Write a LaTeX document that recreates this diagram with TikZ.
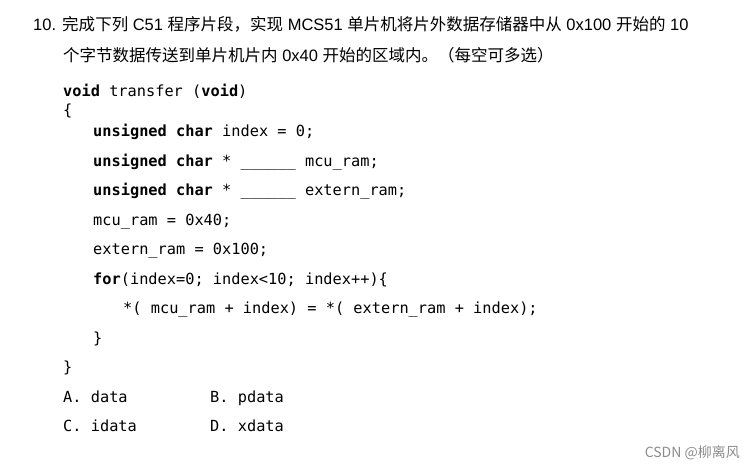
\documentclass[tikz,border=0pt]{standalone}
\usepackage{fontspec}
\setmainfont{Liberation Sans}
\setmonofont{DejaVu Sans Mono}
\newfontfamily\cjk{Noto Sans CJK SC}
\usetikzlibrary{positioning}
\tikzset{every node/.style={inner sep=0pt, anchor=base west},
         qtext/.style={font=\fontsize{16.5}{20}\selectfont},
         code/.style={font=\fontsize{15.3}{18}\ttfamily},
         wmark/.style={font=\fontsize{14}{16}\selectfont, text=black!45, anchor=base east}}
\newcommand{\kw}[1]{\textbf{#1}}

\begin{document}
\begin{tikzpicture}[x=1pt,y=-1pt]
  \useasboundingbox (0,0) rectangle (754,468);
  % question
  \node[qtext] (qone) at (33,31) {10. {\cjk 完成下列} C51 {\cjk 程序片段，实现} MCS51 {\cjk 单片机将片外数据存储器中从} 0x100 {\cjk 开始的} 10};
  \node[qtext] (qtwo) at (63,62) {{\cjk 个字节数据传送到单片机片内} 0x40 {\cjk 开始的区域内。（每空可多选）}};
  % code
  \node[code] (head)  at (63,97)  {\kw{void} transfer (\kw{void})};
  \node[code] (open)  at (63,115) {\{};
  \node[code] (idx)   at (93,136) {\kw{unsigned char} index = 0;};
  \node[code] (mcu)   at (93,166) {\kw{unsigned char} * \_\_\_\_\_\_ mcu\_ram;};
  \node[code] (ext)   at (93,195) {\kw{unsigned char} * \_\_\_\_\_\_ extern\_ram;};
  \node[code] (setm)  at (93,225) {mcu\_ram = 0x40;};
  \node[code] (sete)  at (93,254) {extern\_ram = 0x100;};
  \node[code] (loop)  at (93,284) {\kw{for}(index=0; index<10; index++)\{};
  \node[code] (copy)  at (123,313) {*( mcu\_ram + index) = *( extern\_ram + index);};
  \node[code] (inner) at (93,343) {\}};
  \node[code] (close) at (63,372) {\}};
  % choices
  \node[code] (opta) at (63,402)  {A. data};
  \node[code] (optb) at (210,402) {B. pdata};
  \node[code] (optc) at (63,431)  {C. idata};
  \node[code] (optd) at (210,431) {D. xdata};
  \node[wmark] (wm) at (740,457) {\cjk CSDN @柳离风};
\end{tikzpicture}
\end{document}
